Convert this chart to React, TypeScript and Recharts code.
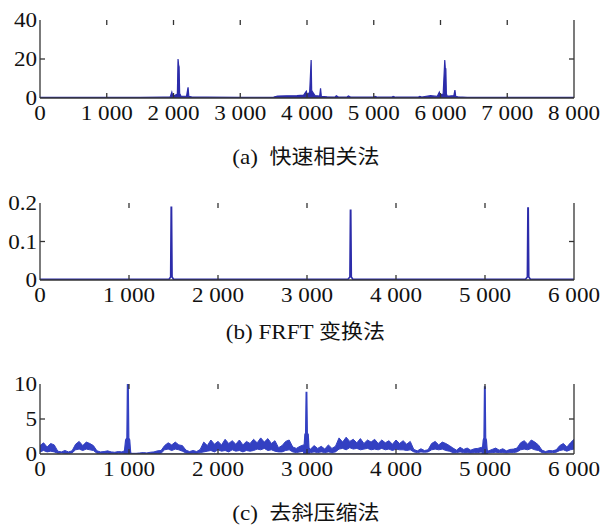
import React from 'react';
import { ComposedChart, Area, Line, XAxis, YAxis, ReferenceLine } from 'recharts';

const BLUE = '#2c2caa';
const BLUE_C = '#3340c2';
const AXIS = '#333333';

// (a) fast correlation
const fastX = [0, 500, 1000, 1500, 1850, 1950, 1975, 1990, 2030, 2058, 2068, 2076, 2084, 2092, 2110, 2195, 2218, 2230, 2280, 2500, 3000, 3500, 3560, 3700, 3850, 3950, 3990, 4005, 4040, 4062, 4070, 4085, 4120, 4190, 4203, 4215, 4300, 4420, 4440, 4470, 4600, 4620, 4660, 5000, 5020, 5060, 5270, 5290, 5330, 5660, 5690, 5720, 5850, 5950, 5982, 5995, 6040, 6064, 6072, 6080, 6088, 6100, 6130, 6200, 6216, 6228, 6260, 6400, 7000, 8000];
const fastY = [0.3, 0.3, 0.35, 0.3, 0.4, 0.5, 3, 0.8, 1.5, 2, 20, 17, 16, 2.5, 1, 0.8, 5.5, 0.8, 0.5, 0.4, 0.3, 0.5, 1, 1.1, 1.2, 1.5, 3.5, 1.5, 3, 19.5, 4, 3, 1.2, 1, 5, 0.8, 0.6, 0.5, 1.2, 0.5, 0.5, 1, 0.4, 0.4, 0.8, 0.4, 0.4, 0.8, 0.4, 0.4, 0.8, 0.5, 1.2, 0.8, 3, 1.5, 2, 19.5, 15, 15, 2, 1, 1, 1.2, 4, 0.8, 0.6, 0.3, 0.3, 0.3];

// (b) FRFT
const frftX = [0, 1450, 1468, 1474, 1478, 1484, 1500, 3460, 3482, 3488, 3492, 3498, 3515, 5455, 5476, 5482, 5486, 5492, 5510, 6000];
const frftY = [0.002, 0.002, 0.008, 0.189, 0.189, 0.008, 0.002, 0.002, 0.008, 0.181, 0.181, 0.008, 0.002, 0.002, 0.008, 0.187, 0.187, 0.008, 0.002, 0.002];

// (c) dechirp: noise band sampled every 40
const STEP = 40;
const dechirpHi = [
  1.2, 1.6, 1.0, 1.5, 1.3,
  0.4, 0.3, 0.5, 0.3, 0.45,
  1.4, 1.8, 1.2, 1.7, 1.5, 1.2,
  0.45, 0.3, 0.35, 0.45, 0.3, 0.25, 0.35, 0.3, 0.5,
  0.15, 0.1, 0.1, 0.15, 0.2, 0.15, 0.25, 0.3, 0.45, 0.5,
  1.2, 1.6, 1.3, 1.7, 1.3, 1.2,
  0.55, 0.35, 0.5, 0.35, 0.65,
  1.7, 1.2, 2.0, 1.4, 1.8, 1.3, 2.1, 1.5, 1.9, 1.4, 2.0, 1.3, 1.8, 1.5,
  2.1, 1.6, 2.3, 1.7, 2.2, 1.5, 1.9,
  0.9, 1.2, 1.8, 2.0, 1.0, 0.8, 1.1, 1.3,
  1.0, 0.7, 1.2, 0.8, 1.1, 0.7, 1.3, 0.8, 1.1,
  2.3, 1.7, 2.4, 1.8, 2.1, 1.6, 2.2, 1.5, 2.0, 1.7, 2.1, 1.5, 2.0, 1.6, 1.9, 1.4, 2.0, 1.5, 1.9, 1.4, 1.8,
  0.65, 0.45, 0.75, 0.5, 0.6,
  1.5, 1.8, 1.3, 1.7, 1.5, 1.2,
  0.85, 0.55, 0.95, 0.65, 0.85, 0.55, 0.75, 0.8, 0.95,
  0.75, 0.45, 0.65, 0.85, 0.55, 0.75, 0.45, 0.65, 0.7, 0.85,
  1.6, 1.9, 1.4, 2.0, 1.7, 1.3,
  0.55, 0.35, 0.5, 0.45, 0.6,
  1.2, 1.5, 1.0, 1.6, 2.1,
];
const dechirpLo = [
  0.3, 0.5, 0.3, 0.4, 0.3,
  0.1, 0.15, 0.1, 0.1, 0.15,
  0.6, 0.7, 0.5, 0.7, 0.6, 0.5,
  0.1, 0.1, 0.1, 0.1, 0.05, 0.05, 0.1, 0.1, 0.1,
  0, 0, 0, 0, 0.05, 0.05, 0.05, 0.1, 0.1, 0.1,
  0.6, 0.7, 0.5, 0.7, 0.6, 0.4,
  0.15, 0.1, 0.15, 0.1, 0.2,
  0.3, 0.4, 0.5, 0.3, 0.6, 0.4, 0.5, 0.3, 0.6, 0.4, 0.5, 0.3, 0.5, 0.4,
  0.5, 0.7, 0.6, 0.8, 0.5, 0.6, 0.4,
  0.3, 0.3, 0.5, 0.6, 0.3, 0.2, 0.3, 0.4,
  0.3, 0.2, 0.3, 0.2, 0.3, 0.2, 0.3, 0.2, 0.3,
  0.7, 0.8, 0.6, 0.9, 0.7, 0.8, 0.6, 0.7, 0.8, 0.6, 0.7, 0.6, 0.8, 0.6, 0.7, 0.5, 0.7, 0.6, 0.6, 0.5, 0.6,
  0.3, 0.2, 0.3, 0.25, 0.3,
  0.6, 0.7, 0.6, 0.7, 0.5, 0.4,
  0.2, 0.2, 0.3, 0.2, 0.2, 0.15, 0.2, 0.2, 0.3,
  0.2, 0.15, 0.2, 0.25, 0.2, 0.2, 0.15, 0.2, 0.2, 0.3,
  0.6, 0.7, 0.6, 0.8, 0.6, 0.5,
  0.2, 0.15, 0.2, 0.2, 0.25,
  0.5, 0.6, 0.4, 0.6, 0.7,
];
const spikeX = [945, 962, 976, 982, 992, 998, 1008, 1020, 2962, 2976, 2984, 2990, 2998, 3004, 3014, 3026, 4966, 4980, 4988, 4994, 5002, 5008, 5016, 5028];
const spikeY = [0, 2.0, 2.3, 10, 10, 2.3, 2.0, 0, 0, 2.8, 3.0, 8.8, 8.8, 3.0, 2.8, 0, 0, 2.0, 2.3, 9.6, 9.6, 2.3, 2.0, 0];

const ticks8k = [0, 1000, 2000, 3000, 4000, 5000, 6000, 7000, 8000];
const ticks6k = [0, 1000, 2000, 3000, 4000, 5000, 6000];
const yTicksA = [0, 20, 40];
const yTicksB = [0, 0.1, 0.2];
const yTicksC = [0, 5, 10];

const fastData = fastX.map((x, i) => ({ x, v: fastY[i] }));
const frftData = frftX.map((x, i) => ({ x, v: frftY[i] }));
const bandData = dechirpHi.map((h, i) => ({ x: i * STEP, band: [dechirpLo[i], h] }));
const spikeData = spikeX.map((x, i) => ({ x, v: spikeY[i] }));

const SERIF = 'Liberation Serif, Tinos, Times New Roman, serif';
const CJK = 'Noto Sans CJK SC, sans-serif';
const STRETCH = 1.1;
const PLOT_W = 534;
const TICK_LEN = 5;

const fmt = (v: number) => {
  if (v < 1000) return String(v);
  return `${Math.floor(v / 1000)} ${String(v % 1000).padStart(3, '0')}`;
};

const XTick = (props: any) => {
  const { x, y, payload } = props;
  return (
    <text x={x} y={y + 15} textAnchor="middle" dominantBaseline="central" fontFamily={SERIF} fontSize={21} fill="#111"
      transform={`translate(${x} 0) scale(${STRETCH} 1) translate(${-x} 0)`}>
      {fmt(payload.value)}
    </text>
  );
};

const YTick = (props: any) => {
  const { x, y, payload } = props;
  const tx = x - 3;
  return (
    <text x={tx} y={y} textAnchor="end" dominantBaseline="central" fontFamily={SERIF} fontSize={21} fill="#111"
      transform={`translate(${tx} 0) scale(${STRETCH} 1) translate(${-tx} 0)`}>
      {payload.value}
    </text>
  );
};

const Blank = () => <g />;

interface PanelProps {
  top: number;
  boxH: number;
  xMax: number;
  xTicks: number[];
  yMax: number;
  yTicks: number[];
  children: React.ReactNode;
}

const Panel: React.FC<PanelProps> = ({ top, boxH, xMax, xTicks, yMax, yTicks, children }) => {
  const axisProps = {
    stroke: AXIS,
    strokeWidth: 1.3,
    tickSize: 0,
    tickMargin: 0,
    tickLine: false,
  };
  // MATLAB-style inward ticks on all four sides
  const dy = (yMax * TICK_LEN) / boxH;
  const dx = (xMax * TICK_LEN) / PLOT_W;
  const innerX = xTicks.filter((t) => t > 0 && t < xMax);
  const innerY = yTicks.filter((t) => t > 0 && t < yMax);
  const tickMarks = [
    ...innerX.map((t) => [{ x: t, y: 0 }, { x: t, y: dy }]),
    ...innerX.map((t) => [{ x: t, y: yMax }, { x: t, y: yMax - dy }]),
    ...innerY.map((t) => [{ x: 0, y: t }, { x: dx, y: t }]),
    ...innerY.map((t) => [{ x: xMax, y: t }, { x: xMax - dx, y: t }]),
  ];
  return (
    <div style={{ position: 'absolute', left: 0, top: top - 20 }}>
      <ComposedChart width={611} height={boxH + 60} margin={{ top: 20, right: 0, bottom: 10, left: 0 }}
        style={{ overflow: 'visible' }}>
        <XAxis dataKey="x" type="number" domain={[0, xMax]} ticks={xTicks} height={30}
          allowDataOverflow tick={<XTick />} {...axisProps} />
        <XAxis xAxisId="top" orientation="top" type="number" domain={[0, xMax]} ticks={xTicks} height={0}
          allowDataOverflow tick={<Blank />} {...axisProps} />
        <YAxis type="number" domain={[0, yMax]} ticks={yTicks} width={40} allowDataOverflow
          tick={<YTick />} {...axisProps} />
        <YAxis yAxisId="right" orientation="right" type="number" domain={[0, yMax]} ticks={yTicks} width={37}
          allowDataOverflow tick={<Blank />} {...axisProps} />
        {children}
        {tickMarks.map((seg, i) => (
          <ReferenceLine key={i} segment={seg} stroke={AXIS} strokeWidth={1.3} ifOverflow="visible" />
        ))}
      </ComposedChart>
    </div>
  );
};

const Caption: React.FC<{ cy: number; label: string; cjk: string }> = ({ cy, label, cjk }) => (
  <div style={{
    position: 'absolute', left: 0, top: cy - 14, width: 611, height: 28, lineHeight: '28px',
    textAlign: 'center', fontSize: 20, color: '#111', whiteSpace: 'pre',
  }}>
    <span style={{ display: 'inline-block', transform: `scaleX(${STRETCH})` }}>
      <span style={{ fontFamily: SERIF, fontSize: 21 }}>{label}</span>
      <span style={{ fontFamily: CJK }}>{cjk}</span>
    </span>
  </div>
);

export default function App() {
  return (
    <div style={{ position: 'absolute', left: 0, top: 0, width: 611, height: 526, background: '#fff', overflow: 'hidden' }}>
      <Panel top={20} boxH={78} xMax={8000} xTicks={ticks8k} yMax={40} yTicks={yTicksA}>
        <Area data={fastData} dataKey="v" type="linear" stroke={BLUE} strokeWidth={1.2} fill={BLUE} fillOpacity={1}
          isAnimationActive={false} dot={false} activeDot={false} />
      </Panel>
      <Caption cy={156} label="(a)  " cjk="快速相关法" />

      <Panel top={203} boxH={77} xMax={6000} xTicks={ticks6k} yMax={0.2} yTicks={yTicksB}>
        <Line data={frftData} dataKey="v" type="linear" stroke={BLUE} strokeWidth={1.6}
          isAnimationActive={false} dot={false} activeDot={false} />
      </Panel>
      <Caption cy={331} label="(b) FRFT " cjk="变换法" />

      <Panel top={384} boxH={70} xMax={6000} xTicks={ticks6k} yMax={10} yTicks={yTicksC}>
        <Area data={bandData} dataKey="band" type="linear" stroke={BLUE_C} strokeWidth={1} fill={BLUE_C} fillOpacity={1}
          isAnimationActive={false} dot={false} activeDot={false} />
        <Area data={spikeData} dataKey="v" type="linear" stroke={BLUE_C} strokeWidth={1.2} fill={BLUE_C} fillOpacity={1}
          isAnimationActive={false} dot={false} activeDot={false} />
      </Panel>
      <Caption cy={512} label="(c)  " cjk="去斜压缩法" />
    </div>
  );
}
